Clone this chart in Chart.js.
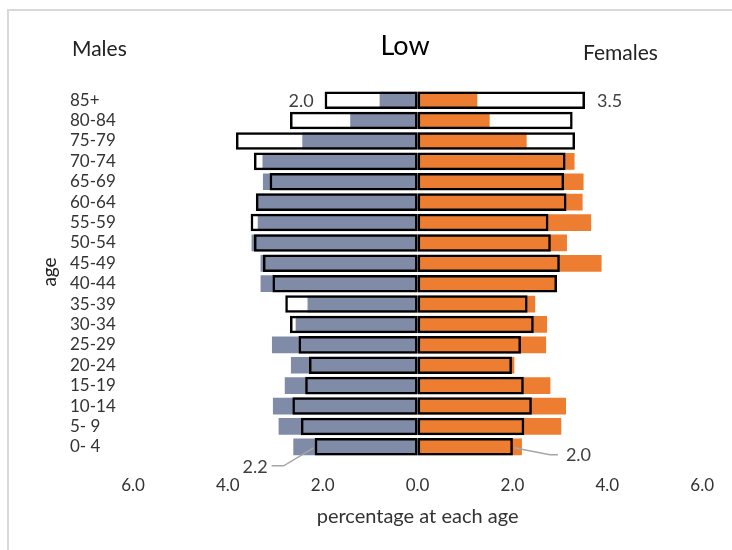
<!DOCTYPE html>
<html>
<head>
<meta charset="utf-8">
<title>Low</title>
<script src="https://cdn.jsdelivr.net/npm/chart.js@4.4.0/dist/chart.umd.min.js"></script>
<style>
    html, body { margin: 0; padding: 0; background: #fff; }
    #wrap { position: relative; width: 732px; height: 550px; overflow: hidden; }
    #frame {
        position: absolute; left: 7px; top: 9px; width: 740px; height: 560px;
        border-left: 2px solid #d9d9d9; border-top: 2px solid #d9d9d9;
    }
    #pyramid { position: absolute; left: 0; top: 0; }
</style>
</head>
<body>
<div id="wrap">
    <div id="frame"></div>
    <canvas id="pyramid" width="732" height="550"></canvas>
</div>
<script>
// Age groups, top row first
const ageGroups = ['85+', '80-84', '75-79', '70-74', '65-69', '60-64', '55-59', '50-54', '45-49',
    '40-44', '35-39', '30-34', '25-29', '20-24', '15-19', '10-14', '5- 9', '0- 4'];

// Filled bars, percentage at each age
const malesFilled = [0.80, 1.42, 2.43, 3.27, 3.26, 3.40, 3.37, 3.50, 3.31, 3.31, 2.32, 2.57, 3.07, 2.67, 2.80, 3.05, 2.93, 2.62];
const femalesFilled = [1.26, 1.52, 2.30, 3.31, 3.50, 3.48, 3.66, 3.15, 3.88, 2.92, 2.48, 2.73, 2.71, 2.04, 2.80, 3.13, 3.03, 2.20];

// Outlined bars, "Low" variant
const malesLow = [1.96, 2.69, 3.83, 3.45, 3.12, 3.41, 3.52, 3.45, 3.26, 3.06, 2.79, 2.69, 2.51, 2.29, 2.37, 2.64, 2.46, 2.17];
const femalesLow = [3.53, 3.27, 3.32, 3.12, 3.09, 3.14, 2.76, 2.81, 3.00, 2.94, 2.32, 2.45, 2.18, 1.99, 2.24, 2.41, 2.25, 2.01];

// Tick values on the percentage axis (males drawn to the left)
const xTicks = [-6, -4, -2, 0, 2, 4, 6];

const FONT = 'Lato';
const TEXT = '#333333';
const MALE_COLOR = '#7f8ba7';
const FEMALE_COLOR = '#ed7d31';

Chart.defaults.font.family = FONT;
Chart.defaults.color = TEXT;

// Title, side headings, rotated axis name and the end labels with leader lines
const annotations = {
    id: 'annotations',
    afterDatasetsDraw(chart) {
        const ctx = chart.ctx;
        const x = chart.scales.x;
        const y = chart.scales.y;
        const last = ageGroups.length - 1;

        ctx.save();
        ctx.textBaseline = 'middle';

        // chart title
        ctx.fillStyle = '#000';
        ctx.textAlign = 'center';
        ctx.font = `27px ${FONT}`;
        ctx.fillText('Low', 405, 46);

        ctx.fillStyle = '#222';
        ctx.font = `21px ${FONT}`;
        ctx.textAlign = 'left';
        ctx.fillText('Males', 72, 49);
        ctx.fillText('Females', 583, 53);

        // y axis name
        ctx.save();
        ctx.translate(50, 272);
        ctx.rotate(-Math.PI / 2);
        ctx.textAlign = 'center';
        ctx.font = `19px ${FONT}`;
        ctx.fillText('age', 0, 0);
        ctx.restore();

        ctx.font = `18px ${FONT}`;
        ctx.fillStyle = '#404040';

        // top row labels
        const yTop = y.getPixelForValue(0);
        ctx.textAlign = 'right';
        ctx.fillText(malesLow[0].toFixed(1), x.getPixelForValue(-malesLow[0]) - 11, yTop + 1);
        ctx.textAlign = 'left';
        ctx.fillText(femalesLow[0].toFixed(1), x.getPixelForValue(femalesLow[0]) + 12, yTop + 1);

        // bottom row labels with leader lines
        const yBot = y.getPixelForValue(last);
        const mx = x.getPixelForValue(-malesLow[last]);
        const fx = x.getPixelForValue(femalesLow[last]);
        ctx.strokeStyle = '#a6a6a6';
        ctx.lineWidth = 1.5;
        ctx.beginPath();
        ctx.moveTo(mx - 1, yBot + 1);
        ctx.lineTo(mx - 31, yBot + 19);
        ctx.lineTo(mx - 43, yBot + 19);
        ctx.moveTo(fx + 1, yBot + 1);
        ctx.lineTo(fx + 37, yBot + 8);
        ctx.lineTo(fx + 45, yBot + 8);
        ctx.stroke();

        ctx.textAlign = 'right';
        ctx.fillText(malesLow[last].toFixed(1), mx - 47, yBot + 20);
        ctx.textAlign = 'left';
        ctx.fillText(femalesLow[last].toFixed(1), fx + 53, yBot + 8);
        ctx.restore();
    }
};

const ctx = document.getElementById('pyramid');

new Chart(ctx, {
    type: 'bar',
    data: {
        labels: ageGroups,
        datasets: [
            {
                label: 'Males low',
                data: malesLow.map(v => -v),
                backgroundColor: 'rgba(0,0,0,0)',
                borderColor: '#000',
                borderWidth: 2.5,
                borderSkipped: false,
                grouped: false,
                categoryPercentage: 0.86,
                barPercentage: 1,
                order: 0
            },
            {
                label: 'Females low',
                data: femalesLow,
                backgroundColor: 'rgba(0,0,0,0)',
                borderColor: '#000',
                borderWidth: 2.5,
                borderSkipped: false,
                grouped: false,
                categoryPercentage: 0.86,
                barPercentage: 1,
                order: 0
            },
            {
                label: 'Males',
                data: malesFilled.map(v => -v),
                backgroundColor: MALE_COLOR,
                borderWidth: 0,
                grouped: false,
                categoryPercentage: 0.82,
                barPercentage: 1,
                order: 1
            },
            {
                label: 'Females',
                data: femalesFilled,
                backgroundColor: FEMALE_COLOR,
                borderWidth: 0,
                grouped: false,
                categoryPercentage: 0.82,
                barPercentage: 1,
                order: 1
            }
        ]
    },
    options: {
        indexAxis: 'y',
        responsive: false,
        animation: false,
        layout: { padding: { left: 70, right: 29, top: 90, bottom: 0 } },
        plugins: {
            legend: { display: false },
            tooltip: { enabled: false },
            title: { display: false }
        },
        scales: {
            x: {
                min: -6,
                max: 6,
                grid: { display: false, drawTicks: false },
                border: { display: false },
                afterBuildTicks: scale => {
                    scale.ticks = xTicks.map(v => ({ value: v }));
                },
                afterFit: scale => { scale.height = 93; },
                ticks: {
                    padding: 18,
                    font: { size: 17 },
                    color: TEXT,
                    callback: value => Math.abs(value).toFixed(1)
                },
                title: {
                    display: true,
                    text: 'percentage at each age',
                    color: TEXT,
                    font: { size: 20 },
                    padding: { top: 0, bottom: 21 }
                }
            },
            y: {
                grid: { display: false, drawTicks: false },
                border: { display: false },
                afterFit: scale => { scale.width = 63; },
                ticks: {
                    crossAlign: 'far',
                    font: { size: 17 },
                    color: TEXT,
                    autoSkip: false
                }
            }
        }
    },
    plugins: [annotations]
});
</script>
</body>
</html>
